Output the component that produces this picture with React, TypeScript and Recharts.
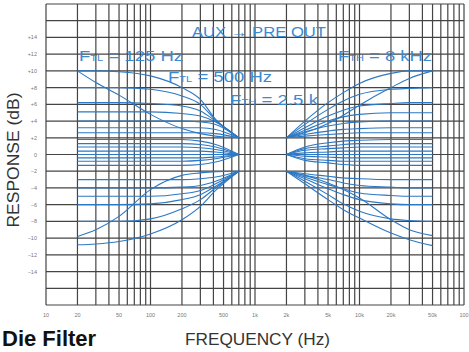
import { LineChart, Line, XAxis, YAxis, CartesianGrid } from "recharts";

// frequency points the curves were read at
const bassF = [20, 30, 50, 100, 200, 300, 420, 700];
const trebleF = [2000, 3000, 5000, 7000, 10000, 20000, 30000, 50000];

// bass boost curves (dB), converge at +2 dB near 700 Hz
const bassBoost = [
  [10, 10, 9.9, 9.4, 8, 6.6, 4.2, 2],
  [10, 8.6, 7.1, 4.8, 3.1, 2.5, 2.2, 2],
  [8, 8, 8, 7.8, 7, 6, 4.1, 2],
  [6.2, 6.2, 6.2, 6.1, 5.8, 5.2, 4, 2],
  [5.1, 5.1, 5.1, 5.1, 4.9, 4.6, 3.9, 2],
  [4, 4, 4, 4, 4, 3.9, 3.6, 2],
  [3.2, 3.2, 3.2, 3.2, 3.2, 3.2, 3, 2],
  [2.6, 2.6, 2.6, 2.6, 2.6, 2.6, 2.5, 2],
];

// near-flat bass settings, converge at 0 dB
const bassFlat = [
  [1.8, 1.8, 1.8, 1.8, 1.8, 1.6, 1.2, 0],
  [1.3, 1.3, 1.3, 1.3, 1.3, 1.2, 0.9, 0],
  [0.9, 0.9, 0.9, 0.9, 0.9, 0.8, 0.6, 0],
  [0.4, 0.4, 0.4, 0.4, 0.4, 0.4, 0.3, 0],
  [0, 0, 0, 0, 0, 0, 0, 0],
  [-0.4, -0.4, -0.4, -0.4, -0.4, -0.4, -0.3, 0],
  [-0.8, -0.8, -0.8, -0.8, -0.8, -0.7, -0.5, 0],
  [-1.3, -1.3, -1.3, -1.3, -1.3, -1.2, -0.9, 0],
];

// bass cut curves, converge at -2 dB
const bassCut = [
  [-10.8, -10.7, -10.4, -9.5, -7.8, -6.2, -4.3, -2],
  [-9.8, -9, -7.4, -4.2, -2.5, -2.2, -2.05, -2],
  [-8, -8, -8, -7.7, -6.5, -5.4, -4, -2],
  [-6, -6, -6, -5.9, -5.4, -4.8, -3.8, -2],
  [-5, -5, -5, -5, -4.7, -4.3, -3.5, -2],
  [-4, -4, -4, -4, -3.9, -3.7, -3.2, -2],
  [-3, -3, -3, -3, -3, -2.9, -2.7, -2],
];

const trebleBoost = [
  [2, 4, 6.2, 7.4, 8.5, 9.7, 10, 10],
  [2, 2.6, 3.7, 4.7, 5.9, 8, 9.1, 10],
  [2, 3.6, 5.4, 6.4, 7.2, 7.8, 7.9, 8],
  [2, 3.2, 4.6, 5.3, 5.8, 6.1, 6.2, 6.2],
  [2, 2.9, 4, 4.5, 4.8, 5, 5, 5],
  [2, 2.7, 3.4, 3.7, 3.9, 4, 4, 4],
  [2, 2.4, 2.8, 3, 3.1, 3.2, 3.2, 3.2],
  [2, 2.2, 2.4, 2.5, 2.6, 2.6, 2.6, 2.6],
];

const trebleFlat = [
  [0, 0.9, 1.4, 1.6, 1.7, 1.8, 1.8, 1.8],
  [0, 0.7, 1, 1.2, 1.3, 1.3, 1.3, 1.3],
  [0, 0.5, 0.7, 0.8, 0.9, 0.9, 0.9, 0.9],
  [0, 0.2, 0.3, 0.4, 0.4, 0.4, 0.4, 0.4],
  [0, 0, 0, 0, 0, 0, 0, 0],
  [0, -0.2, -0.3, -0.4, -0.4, -0.4, -0.4, -0.4],
  [0, -0.5, -0.7, -0.8, -0.8, -0.8, -0.8, -0.8],
  [0, -0.7, -1, -1.2, -1.3, -1.3, -1.3, -1.3],
];

const trebleCut = [
  [-2, -3.5, -5.4, -6.6, -7.6, -9.4, -10.2, -10.9],
  [-2, -2.5, -3.4, -4.2, -5.2, -7.8, -9, -9.7],
  [-2, -3.2, -4.8, -5.9, -6.8, -7.7, -7.9, -8],
  [-2, -2.9, -4.1, -4.8, -5.4, -5.9, -6, -6],
  [-2, -2.7, -3.6, -4.1, -4.6, -4.9, -5, -5],
  [-2, -2.5, -3, -3.4, -3.7, -3.9, -4, -4],
  [-2, -2.3, -2.6, -2.8, -2.9, -3, -3, -3],
];

// log grid: 1..9 per decade
const xTicks = [
  10, 20, 30, 40, 50, 60, 70, 80, 90,
  100, 200, 300, 400, 500, 600, 700, 800, 900,
  1000, 2000, 3000, 4000, 5000, 6000, 7000, 8000, 9000,
  10000, 20000, 30000, 40000, 50000, 60000, 70000, 80000, 90000,
  100000,
];
const xLabels: Record<number, string> = {
  10: "10", 20: "20", 50: "50", 100: "100", 200: "200", 500: "500",
  1000: "1k", 2000: "2k", 5000: "5k", 10000: "10k", 20000: "20k",
  50000: "50k", 100000: "100",
};
const yTicks = [-18, -16, -14, -12, -10, -8, -6, -4, -2, 0, 2, 4, 6, 8, 10, 12, 14, 16, 18];

const toSeries = (freqs: number[], vals: number[]) =>
  freqs.map((f, i) => ({ f, v: vals[i] }));

const XTick = (props: any) => {
  const label = xLabels[props.payload.value];
  if (!label) return null;
  return (
    <text x={props.x} y={317} textAnchor="middle" fontSize={5.5} fill="#777">
      {label}
    </text>
  );
};

const YTick = (props: any) => {
  const v = props.payload.value;
  if (Math.abs(v) > 14) return null;
  const label = v > 0 ? `+${v}` : v < 0 ? `−${-v}` : "0";
  return (
    <text x={37} y={props.y + 2} textAnchor="end" fontSize={5.5} fill="#777">
      {label}
    </text>
  );
};

const blue = "#3a8ad3";

export default function App() {
  const series = [
    ...[...bassBoost, ...bassFlat, ...bassCut].map((v) => toSeries(bassF, v)),
    ...[...trebleBoost, ...trebleFlat, ...trebleCut].map((v) => toSeries(trebleF, v)),
  ];

  return (
    <div
      style={{
        position: "absolute",
        left: 0,
        top: 0,
        width: 469,
        height: 352,
        background: "#fff",
        fontFamily: "'Liberation Sans', Arial, sans-serif",
        overflow: "hidden",
      }}
    >
      <LineChart width={469} height={352} margin={{ top: 4, right: 5, bottom: 17, left: 0 }}>
        <CartesianGrid stroke="#444" strokeWidth={1.2} />
        <XAxis
          dataKey="f"
          type="number"
          scale="log"
          domain={[10, 100000]}
          ticks={xTicks}
          interval={0}
          tick={XTick}
          tickLine={false}
          axisLine={false}
          height={30}
          allowDataOverflow
        />
        <YAxis
          type="number"
          domain={[-18, 18]}
          ticks={yTicks}
          interval={0}
          tick={YTick}
          tickLine={false}
          axisLine={false}
          width={46}
        />
        {series.map((d, i) => (
          <Line
            key={i}
            data={d}
            dataKey="v"
            type="monotone"
            stroke="#2c78c4"
            strokeWidth={1.1}
            dot={false}
            isAnimationActive={false}
          />
        ))}
      </LineChart>

      <svg
        width={469}
        height={352}
        style={{ position: "absolute", left: 0, top: 0, pointerEvents: "none" }}
      >
        <text x={192} y={37} fontSize={15} fill={blue} textLength={134} lengthAdjust="spacingAndGlyphs">
          AUX → PRE OUT
        </text>
        <text x={79} y={61} fontSize={15} fill={blue} textLength={104} lengthAdjust="spacingAndGlyphs">
          F<tspan fontSize={9}>TL</tspan> = 125 Hz
        </text>
        <text x={168} y={82} fontSize={15} fill={blue} textLength={104} lengthAdjust="spacingAndGlyphs">
          F<tspan fontSize={9}>TL</tspan> = 500 Hz
        </text>
        <text x={230} y={105} fontSize={15} fill={blue} textLength={88} lengthAdjust="spacingAndGlyphs">
          F<tspan fontSize={9}>TH</tspan> = 2.5 k
        </text>
        <text x={338} y={61} fontSize={15} fill={blue} textLength={94} lengthAdjust="spacingAndGlyphs">
          F<tspan fontSize={9}>TH</tspan> = 8 kHz
        </text>

        <text
          x={0}
          y={0}
          transform="translate(19 160) rotate(-90)"
          textAnchor="middle"
          fontSize={16}
          fill="#333"
          textLength={135}
          lengthAdjust="spacingAndGlyphs"
        >
          RESPONSE (dB)
        </text>
        <text x={185} y={345} fontSize={16.5} fill="#333" textLength={145} lengthAdjust="spacingAndGlyphs">
          FREQUENCY (Hz)
        </text>
        <text x={2} y={346} fontSize={22} fontWeight="bold" fill="#111">
          Die Filter
        </text>
      </svg>
    </div>
  );
}
